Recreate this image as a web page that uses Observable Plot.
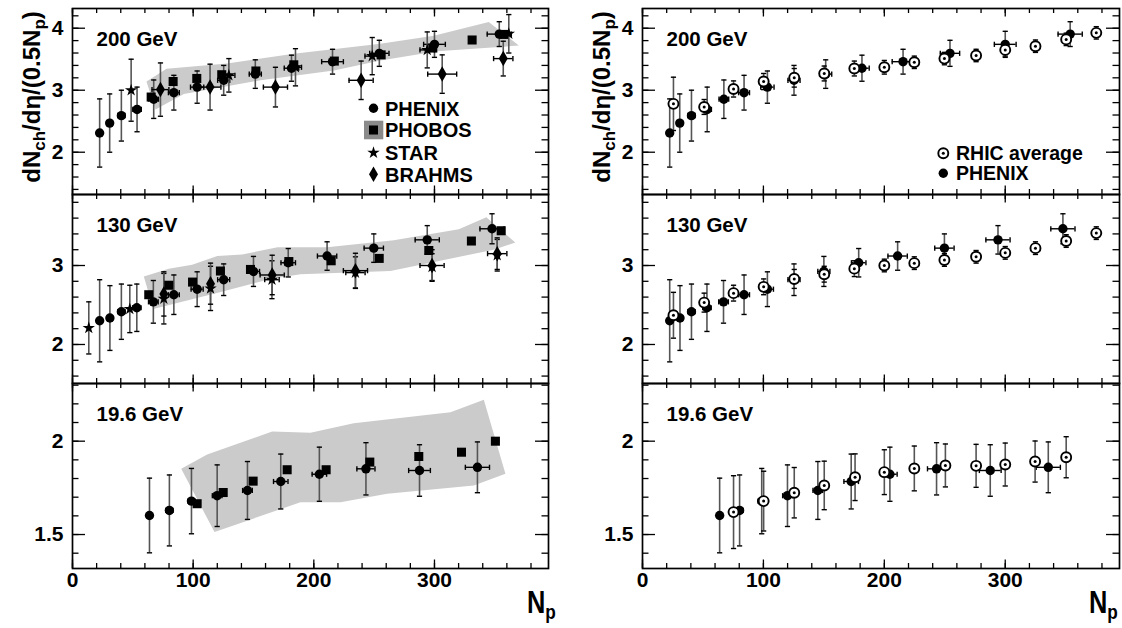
<!DOCTYPE html>
<html><head><meta charset="utf-8">
<script src="https://cdn.jsdelivr.net/npm/d3@7"></script>
<script src="https://cdn.jsdelivr.net/npm/@observablehq/plot@0.6"></script>
<style>
body{margin:0;background:#fff;}
#fig{position:relative;width:1122px;height:628px;overflow:hidden;background:#fff;}
.pan{position:absolute;}
.pan svg{max-width:none;display:block;}
</style></head><body><div id="fig"></div>
<script>
// ---------------- data ----------------
const energies = ["200 GeV", "130 GeV", "19.6 GeV"];
const xMajor = [0, 100, 200, 300];
const xMinor = [0, 20, 40, 60, 80, 100, 120, 140, 160, 180, 200, 220, 240, 260, 280, 300, 320, 340, 360, 380];
const yMajor200 = [2, 3, 4];
const yMinor200 = [1.4, 1.6, 1.8, 2, 2.2, 2.4, 2.6, 2.8, 3, 3.2, 3.4, 3.6, 3.8, 4, 4.2];
const yMajor130 = [2, 3];
const yMinor130 = [1.6, 1.8, 2, 2.2, 2.4, 2.6, 2.8, 3, 3.2, 3.4, 3.6, 3.8];
const yMajor19 = [1.5, 2];
const yMinor19 = [1.4, 1.5, 1.6, 1.7, 1.8, 1.9, 2, 2.1, 2.2, 2.3];

// [Np, dN/deta/(0.5Np), yErr, NpErr]
const phenix200 = [[22.5,2.31,0.55,2],[30.8,2.47,0.47,2.5],[40.5,2.59,0.41,3],[53.5,2.69,0.36,3.5],[67.3,2.855,0.31,4],[84,2.96,0.28,4.5],[103.3,3.05,0.26,5.5],[125.3,3.16,0.24,5],[151.5,3.26,0.23,5],[181.5,3.355,0.21,6],[215.5,3.46,0.2,9],[254.3,3.595,0.21,8],[300,3.74,0.21,9],[353.7,3.905,0.2,10]];
const phobos200 = [[65.2,2.89],[83.4,3.14],[103,3.19],[123.7,3.25],[152,3.31],[183.4,3.41],[217,3.47],[255.8,3.57],[298.6,3.68],[331.2,3.81],[357.4,3.90]];
const star200 = [[48.6,3.0,0.5,0],[129.6,3.24,0.27,5],[184.8,3.37,0.3,5],[248.4,3.55,0.3,6],[294,3.65,0.29,6],[361.6,3.91,0.31,0]];
const brahms200 = [[72.9,3.01,0.43,7],[114,3.05,0.37,9],[168.2,3.05,0.32,10],[239.2,3.16,0.31,10],[306.4,3.26,0.31,12],[357,3.51,0.28,8]];
const phobosBand200 = [[61.3,3.14],[77.9,3.345],[128.2,3.43],[183.4,3.59],[255.2,3.75],[299.4,3.88],[345,4.10],[369.9,3.72],[302.2,3.63],[255.2,3.48],[216.6,3.32],[155.8,3.16],[92.3,2.94],[68.8,2.69]];
const rhic200 = [[25.6,2.78,0.43,3],[51,2.73,0.12,3],[75.3,3.02,0.13,3],[100.2,3.14,0.13,3],[125.5,3.20,0.15,3],[150.3,3.27,0.12,3],[175.2,3.35,0.12,3],[200,3.37,0.11,3],[224.8,3.45,0.1,3],[249.7,3.51,0.1,3],[275.9,3.56,0.1,3],[300,3.65,0.1,3],[325,3.71,0.1,3],[350.4,3.82,0.1,3],[375.3,3.925,0.1,3]];

const phenix130 = [[22.5,2.30,0.52,2],[31,2.335,0.41,2.5],[40.5,2.415,0.35,3],[53.3,2.465,0.30,3.5],[67,2.54,0.27,4],[84,2.63,0.25,4.5],[103.3,2.70,0.22,5],[125.3,2.82,0.2,5],[150,2.925,0.19,5],[178.8,3.035,0.18,6],[211,3.12,0.18,8],[249.7,3.22,0.18,8],[294,3.325,0.18,10],[347.7,3.465,0.19,10]];
const phobos130 = [[63.2,2.63],[79.8,2.75],[99.5,2.79],[122.6,2.93],[147.5,2.95],[179.3,3.05],[214.4,3.06],[254.2,3.09],[295.3,3.19],[330.6,3.31],[355.3,3.44]];
const star130 = [[13.5,2.21,0.33,0],[47.5,2.45,0.3,0],[75.7,2.58,0.32,0],[114.4,2.71,0.28,0],[165.3,2.82,0.24,6],[234.5,2.91,0.2,8],[298,2.98,0.17,0],[352,3.13,0.2,0]];
const brahms130 = [[75.7,2.64,0.28,0],[114.4,2.77,0.26,0],[165.5,2.88,0.25,10],[234.5,2.935,0.22,10],[298,3.0,0.2,10],[352,3.15,0.2,8]];
const phobosBand130 = [[59.1,2.86],[79.8,2.96],[99.2,3.01],[120,3.12],[140.6,3.14],[170,3.23],[211,3.23],[266.3,3.32],[320.2,3.46],[343,3.61],[367,3.29],[349,3.20],[263.5,2.93],[188.9,2.89],[164,2.83],[122,2.66],[67,2.45]];
const rhic130 = [[25.6,2.37,0.29,3],[51,2.53,0.12,3],[75.3,2.65,0.1,3],[100.2,2.73,0.1,3],[125.5,2.83,0.12,3],[150.3,2.89,0.1,3],[175.2,2.96,0.1,3],[200,3.0,0.08,3],[224.8,3.03,0.08,3],[249.7,3.07,0.08,3],[275.9,3.11,0.08,3],[300,3.16,0.08,3],[325,3.22,0.08,3],[350.4,3.31,0.08,3],[375.3,3.41,0.08,3]];

const phenix19 = [[63.8,1.602,0.20,2],[80.3,1.629,0.19,3],[98.6,1.679,0.175,3],[119.9,1.708,0.165,4],[145,1.736,0.155,4],[172.6,1.784,0.147,6],[204.6,1.823,0.145,6],[243.2,1.852,0.14,7.5],[287.6,1.843,0.138,9],[335.6,1.86,0.136,10]];
const phobos19 = [[103.3,1.665],[124.9,1.725],[149.7,1.786],[177.9,1.847],[210.2,1.847],[246.4,1.888],[287,1.918],[322.4,1.941],[350.5,2.0]];
const phobosBand19 = [[90.1,1.852],[111.6,1.929],[165.5,2.052],[197.2,2.045],[233.1,2.096],[313.3,2.155],[340.9,2.222],[358.8,1.825],[332.6,1.763],[260.8,1.718],[222.1,1.673],[188.9,1.673],[117.7,1.513]];
const rhic19 = [[75.3,1.620,0.195,3],[100.2,1.679,0.16,3],[125.5,1.724,0.135,3],[150.3,1.763,0.13,3],[175.8,1.807,0.125,3],[200,1.834,0.12,3],[224.8,1.854,0.12,3],[250.5,1.870,0.115,3],[275.9,1.868,0.115,3],[300,1.875,0.115,3],[324.7,1.891,0.11,3],[350.4,1.914,0.11,3]];

const leftLegend = ["PHENIX", "PHOBOS", "STAR", "BRAHMS"];
const rightLegend = ["RHIC average", "PHENIX"];

// ---------------- layout & style ----------------
const FONT = '"Liberation Sans", Arial, Helvetica, sans-serif';
const cols = [{L: 72, R: 548}, {L: 642, R: 1119}];
const rows = [{T: 8, B: 194}, {T: 194, B: 383}, {T: 383, B: 568}];
const yDomains = [[1.318, 4.318], [1.506, 3.899], [1.318, 2.309]];
const yMajors = [yMajor200, yMajor130, yMajor19];
const yMinors = [yMinor200, yMinor130, yMinor19];
const ML = 70, MR = 6, MT = 4;
const BAND = "#cbcbcb", BAR = "#555";

const capH = {draw(ctx) { ctx.moveTo(-2.6, 0); ctx.lineTo(2.6, 0); }};
const capV = {draw(ctx) { ctx.moveTo(0, -2.6); ctx.lineTo(0, 2.6); }};

function errorMarks(data) {
  const ey = data.filter(d => d[2] > 0), ex = data.filter(d => d[3] > 0);
  return [
    Plot.ruleY(ex, {y: d => d[1], x1: d => d[0] - d[3], x2: d => d[0] + d[3], stroke: "#000", strokeWidth: 1.4}),
    Plot.dot(ex, {x: d => d[0] - d[3], y: d => d[1], symbol: capV, r: 3, stroke: "#000", fill: "none", strokeWidth: 1.4}),
    Plot.dot(ex, {x: d => d[0] + d[3], y: d => d[1], symbol: capV, r: 3, stroke: "#000", fill: "none", strokeWidth: 1.4}),
    Plot.ruleX(ey, {x: d => d[0], y1: d => d[1] - d[2], y2: d => d[1] + d[2], stroke: BAR, strokeWidth: 1.6}),
    Plot.dot(ey, {x: d => d[0], y: d => d[1] - d[2], symbol: capH, r: 3, stroke: "#000", fill: "none", strokeWidth: 1.4}),
    Plot.dot(ey, {x: d => d[0], y: d => d[1] + d[2], symbol: capH, r: 3, stroke: "#000", fill: "none", strokeWidth: 1.4})
  ];
}
const px = d => d[0], py = d => d[1];
const phenixDots = data => Plot.dot(data, {x: px, y: py, symbol: "circle", r: 4.7, fill: "#000", stroke: "none"});
const phobosDots = data => Plot.dot(data, {x: px, y: py, symbol: "square", r: 5.1, fill: "#000", stroke: "none"});
const starDots = data => Plot.dot(data, {x: px, y: py, symbol: "star", r: 3.9, fill: "#000", stroke: "none"});
const brahmsDots = data => Plot.dot(data, {x: px, y: py, symbol: "diamond", r: 4.7, fill: "#000", stroke: "none"});
const rhicDots = data => [
  Plot.dot(data, {x: px, y: py, symbol: "circle", r: 5, fill: "#fff", stroke: "#000", strokeWidth: 1.9}),
  Plot.dot(data, {x: px, y: py, symbol: "circle", r: 1.5, fill: "#000", stroke: "none"})
];
const bandMark = data => Plot.line(data, {x: px, y: py, curve: "linear-closed", fill: BAND, stroke: "none"});

function panel(col, row, dataMarks) {
  const {L, R} = cols[col], {T, B} = rows[row];
  const W = R - L, H = B - T;
  const MB = row === 2 ? 40 : 4;
  const yMaj = yMajors[row], yMin = yMinors[row];
  const tk = {stroke: "#000", strokeWidth: 1.3};
  const marks = [
    ...dataMarks,
    Plot.tickY(yMin, {y: d => d, insetRight: W - 6.5, ...tk}),
    Plot.tickY(yMaj, {y: d => d, insetRight: W - 13, ...tk}),
    Plot.tickY(yMin, {y: d => d, insetLeft: W - 6.5, ...tk}),
    Plot.tickY(yMaj, {y: d => d, insetLeft: W - 13, ...tk}),
    Plot.tickX(xMinor, {x: d => d, insetBottom: H - 5, ...tk}),
    Plot.tickX(xMajor, {x: d => d, insetBottom: H - 8.5, ...tk}),
    Plot.tickX(xMinor, {x: d => d, insetTop: H - 5, ...tk}),
    Plot.tickX(xMajor, {x: d => d, insetTop: H - 8.5, ...tk}),
    Plot.frame({stroke: "#000", strokeWidth: 1.7}),
    Plot.axisY(yMaj, {anchor: "left", tickSize: 0, tickPadding: 9, tickFormat: d => String(d), label: null, fontSize: 21, fontWeight: "bold"}),
    Plot.text([energies[row]], {frameAnchor: "top-left", dx: 24, dy: 31, text: d => d, textAnchor: "start", lineAnchor: "middle", fontSize: 20.5, fontWeight: "bold"})
  ];
  if (row === 2) marks.push(Plot.axisX(xMajor, {anchor: "bottom", tickSize: 0, tickPadding: 4, tickFormat: d => String(d), label: null, fontSize: 21, fontWeight: "bold"}));
  const svg = Plot.plot({
    width: W + ML + MR, height: H + MT + MB,
    marginLeft: ML, marginRight: MR, marginTop: MT, marginBottom: MB,
    x: {domain: [0, 394.5], axis: null},
    y: {domain: yDomains[row], axis: null},
    style: {fontFamily: FONT, fontSize: "20px", fontWeight: "bold", background: "transparent", overflow: "visible", color: "#000"},
    marks
  });
  const div = document.createElement("div");
  div.className = "pan";
  div.style.left = (L - ML) + "px";
  div.style.top = (T - MT) + "px";
  div.appendChild(svg);
  document.getElementById("fig").appendChild(div);
}

// left column
panel(0, 0, [bandMark(phobosBand200), ...errorMarks(phenix200), ...errorMarks(star200), ...errorMarks(brahms200),
  phobosDots(phobos200), starDots(star200), brahmsDots(brahms200), phenixDots(phenix200)]);
panel(0, 1, [bandMark(phobosBand130), ...errorMarks(phenix130), ...errorMarks(star130), ...errorMarks(brahms130),
  phobosDots(phobos130), starDots(star130), brahmsDots(brahms130), phenixDots(phenix130)]);
panel(0, 2, [bandMark(phobosBand19), ...errorMarks(phenix19), phobosDots(phobos19), phenixDots(phenix19)]);
// right column
panel(1, 0, [...errorMarks(phenix200), ...errorMarks(rhic200), phenixDots(phenix200), ...rhicDots(rhic200)]);
panel(1, 1, [...errorMarks(phenix130), ...errorMarks(rhic130), phenixDots(phenix130), ...rhicDots(rhic130)]);
panel(1, 2, [...errorMarks(phenix19), ...errorMarks(rhic19), phenixDots(phenix19), ...rhicDots(rhic19)]);

// ---------------- overlay: legends & titles ----------------
const ov = d3.select("#fig").append("svg")
  .attr("width", 1122).attr("height", 628)
  .style("position", "absolute").style("left", "0px").style("top", "0px")
  .style("font-family", FONT).style("font-weight", "bold");
const area = r => Math.PI * r * r;
// left legend
const lg = ov.append("g");
const lrows = [108.3, 130, 152.7, 174.3];
lg.append("rect").attr("x", 364).attr("y", 120.7).attr("width", 19.3).attr("height", 18.6).attr("fill", "#8a8a8a");
const lsyms = [d3.symbol(d3.symbolCircle, area(4.7)), d3.symbol(d3.symbolSquare, area(5.1)), d3.symbol(d3.symbolStar, area(3.9)), d3.symbol(d3.symbolDiamond, area(4.7))];
leftLegend.forEach((t, i) => {
  lg.append("path").attr("d", lsyms[i]()).attr("transform", `translate(373.5,${lrows[i]})`).attr("fill", "#000");
  lg.append("text").attr("x", 385).attr("y", lrows[i]).attr("dy", "0.36em").attr("font-size", 20).attr("textLength", null).text(t);
});
// right legend
const rg = ov.append("g");
const rrows = [153.3, 173.3];
rg.append("circle").attr("cx", 943.3).attr("cy", rrows[0]).attr("r", 5).attr("fill", "#fff").attr("stroke", "#000").attr("stroke-width", 1.9);
rg.append("circle").attr("cx", 943.3).attr("cy", rrows[0]).attr("r", 1.5).attr("fill", "#000");
rg.append("circle").attr("cx", 943.3).attr("cy", rrows[1]).attr("r", 4.7).attr("fill", "#000");
rightLegend.forEach((t, i) => {
  rg.append("text").attr("x", 956).attr("y", rrows[i]).attr("dy", "0.36em").attr("font-size", 19.5).text(t);
});
// y titles
[31, 601].forEach(cx => {
  const t = ov.append("text").attr("transform", `translate(${cx},97) rotate(-90)`)
    .attr("text-anchor", "middle").attr("dy", "0.36em").attr("font-size", 24);
  t.append("tspan").text("dN");
  t.append("tspan").attr("dy", 5).attr("font-size", 17).text("ch");
  t.append("tspan").attr("dy", -5).text("/d\u03B7/(0.5N");
  t.append("tspan").attr("dy", 5).attr("font-size", 17).text("p");
  t.append("tspan").attr("dy", -5).text(")");
});
// x titles
[[548, 21], [1119, 30]].forEach(([R, off]) => {
  const g = ov.append("g").attr("transform", `translate(${R - off},613) scale(0.82,1)`);
  const t = g.append("text").attr("x", 0).attr("y", 0).attr("font-size", 31);
  t.append("tspan").text("N");
  t.append("tspan").attr("dy", 6).attr("font-size", 21).text("p");
});
</script></body></html>
